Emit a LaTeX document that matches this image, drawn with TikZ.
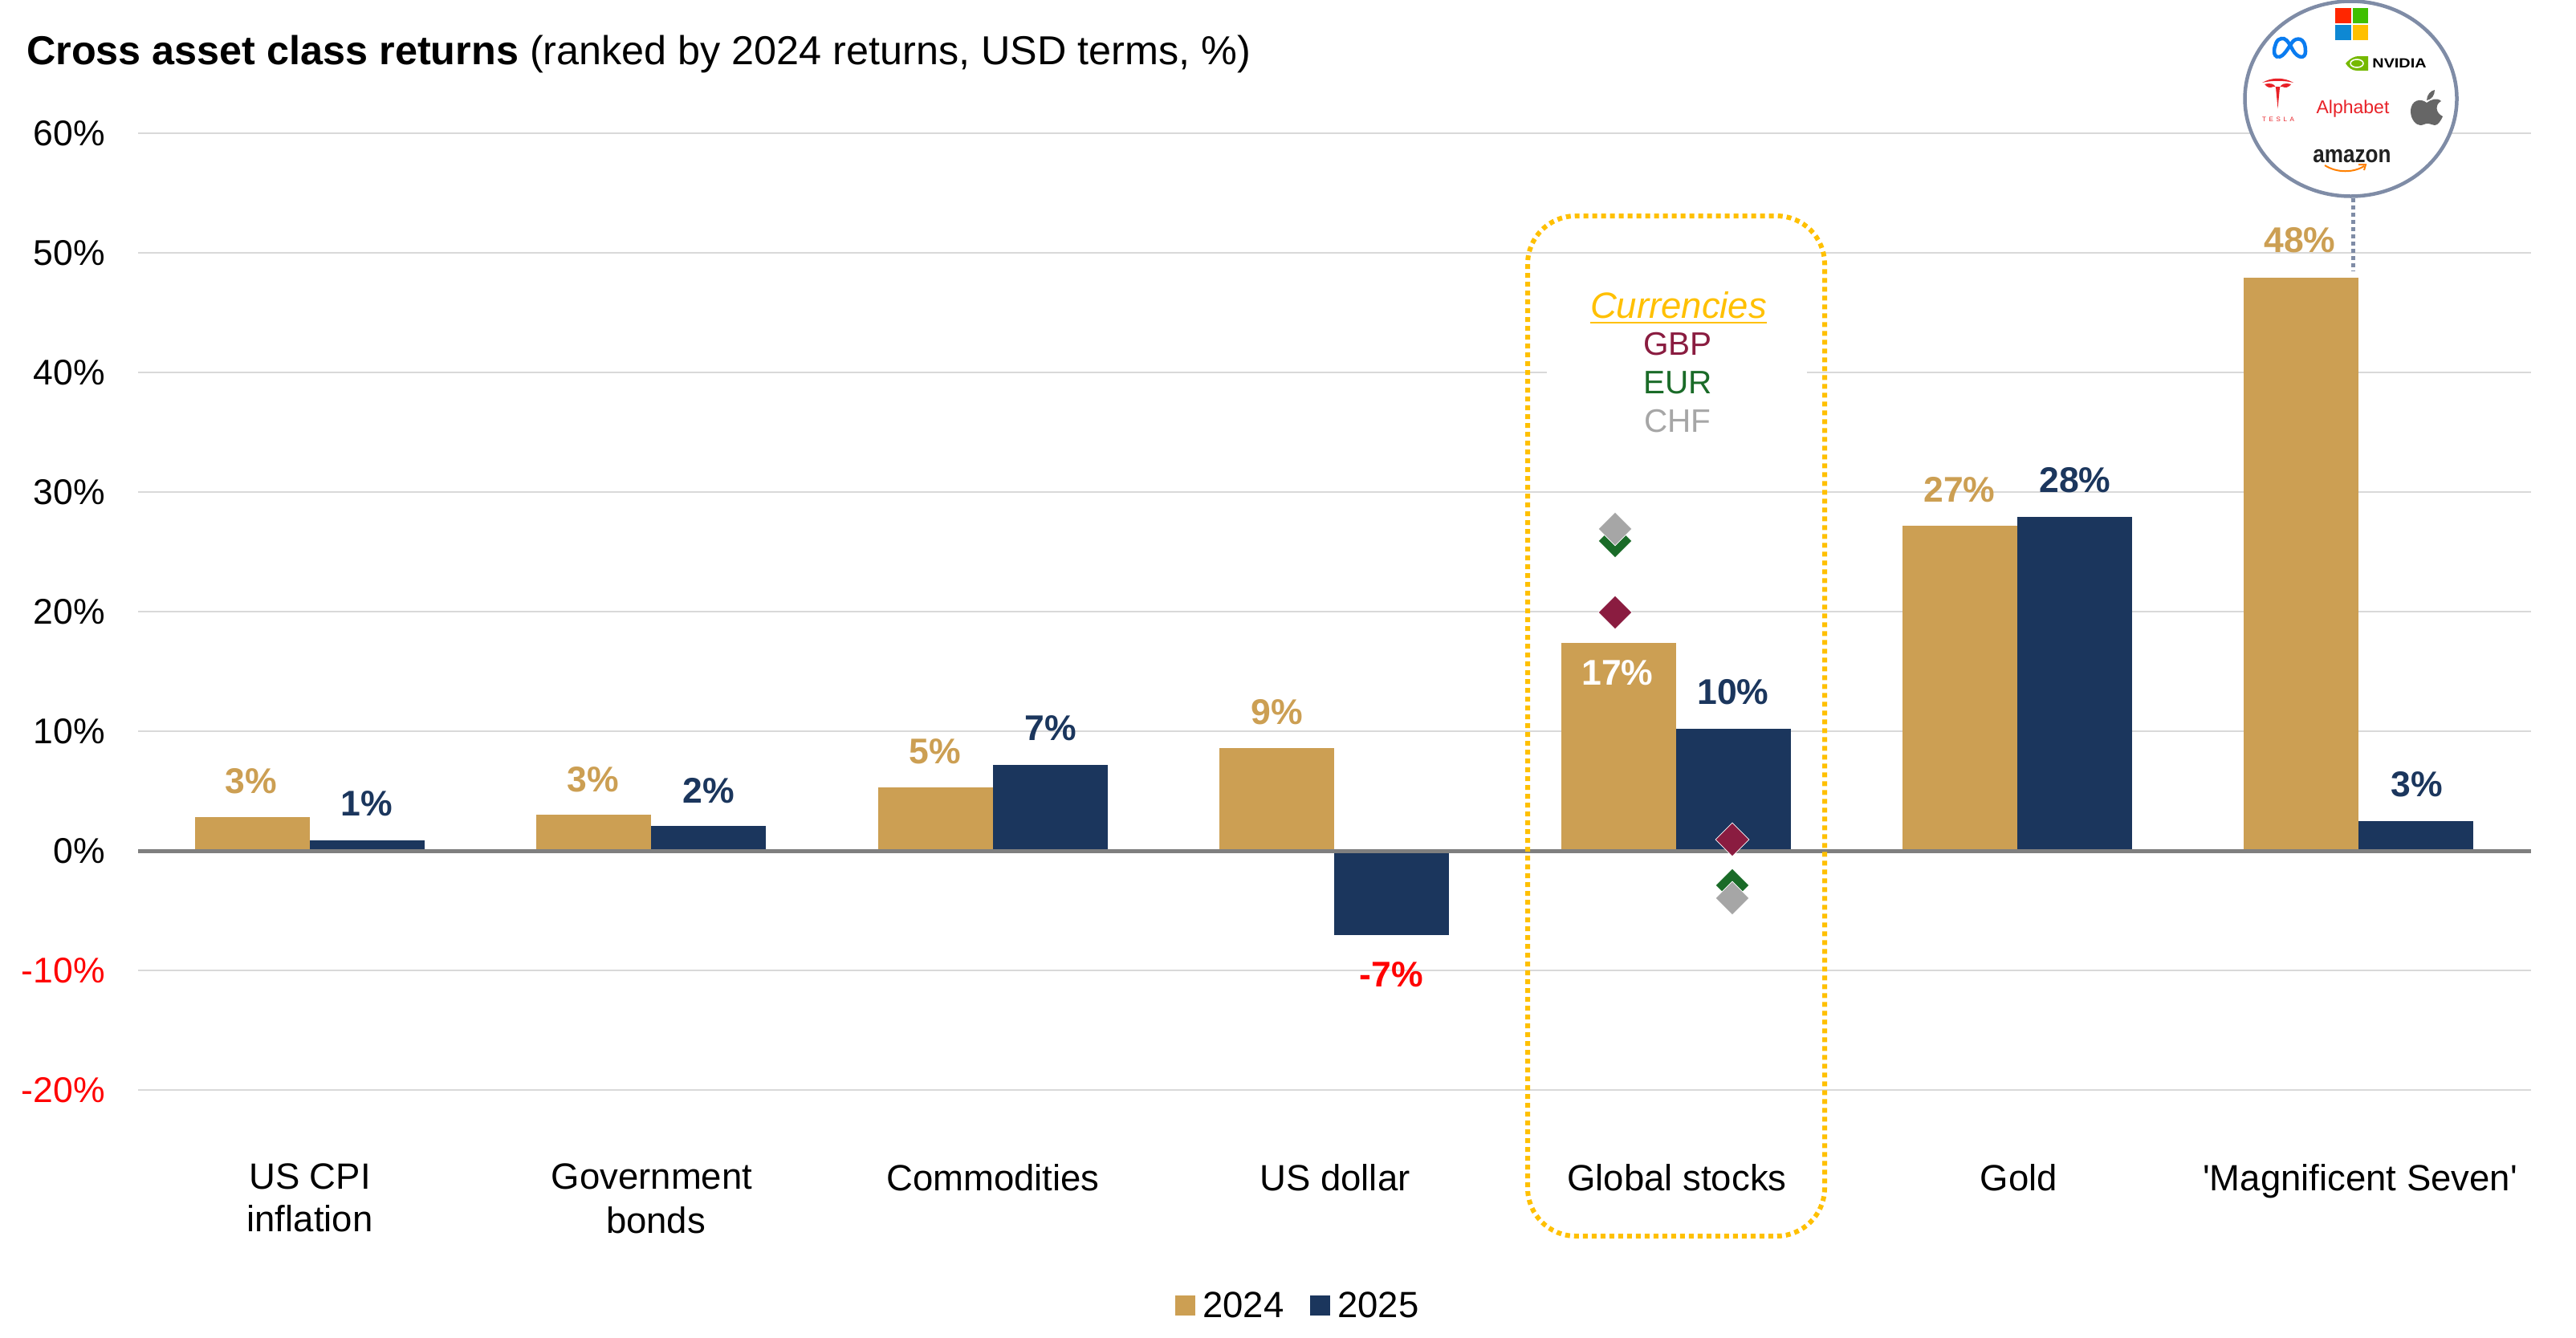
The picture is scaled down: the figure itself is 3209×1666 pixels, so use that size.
\documentclass[tikz,border=0pt]{standalone}
\usepackage{fontspec}
\setmainfont{Liberation Sans}
\newfontfamily\spacedfont[LetterSpace=45]{Liberation Sans}
\usetikzlibrary{shapes.geometric}
\definecolor{cgold}{HTML}{CC9F53}
\definecolor{cnavy}{HTML}{1B365D}
\definecolor{cgrid}{HTML}{D9D9D9}
\definecolor{caxis}{HTML}{7F7F7F}
\definecolor{cyellow}{HTML}{FFC000}
\definecolor{cgbp}{HTML}{8A1C40}
\definecolor{ceur}{HTML}{1A6B28}
\definecolor{cchf}{HTML}{A6A6A6}
\definecolor{cring}{HTML}{7F8CA6}
\definecolor{cmeta}{HTML}{0A7CF0}
\definecolor{cnvidia}{HTML}{76B900}
\definecolor{cbrand}{HTML}{E82127}
\begin{document}
\begin{tikzpicture}[x=1pt,y=-1pt,
    txt/.style={inner sep=0pt,font=\fontsize{45.5}{53}\selectfont},
    ticklabel/.style={inner sep=0pt,font=\fontsize{44.5}{53}\selectfont},
    vallabel/.style={txt,font=\fontsize{44.5}{53}\selectfont\bfseries},
    fx/.style={diamond,minimum size=42pt,inner sep=0pt,draw=white,line width=0.6pt},
    legendkey/.style={minimum size=25pt,inner sep=0pt}]
  \def\axisy{1060}
  \def\onepct{14.9}
  \def\barwidth{143}

  \path[fill=white,use as bounding box] (0,0) rectangle (3209,1666);

  \node[anchor=base west,inner sep=0pt,font=\fontsize{50.35}{60}\selectfont] (title) at (33,80)
    {\textbf{Cross asset class returns} (ranked by 2024 returns, USD terms, \%)};

  \foreach \v/\c in {60/black,50/black,40/black,30/black,20/black,10/black,0/black,-10/red,-20/red} {
    \draw[cgrid,line width=2.5pt] (172,{\axisy-\onepct*\v}) -- (3153,{\axisy-\onepct*\v});
    \node[ticklabel,anchor=east,text=\c] (tick\v) at (131,{\axisy-\onepct*\v}) {\v\%};
  }

  \foreach \i/\a/\b in {0/2.8/0.9,1/3.0/2.1,2/5.3/7.2,3/8.6/-7.05,4/17.4/10.2,5/27.2/27.9,6/47.9/2.5} {
    \pgfmathsetmacro\xc{386+425.4*\i}
    \fill[cgold] (\xc-\barwidth,\axisy) rectangle (\xc,{\axisy-\onepct*\a});
    \fill[cnavy] (\xc,\axisy) rectangle (\xc+\barwidth,{\axisy-\onepct*\b});
  }
  \draw[caxis,line width=5pt] (172,\axisy) -- (3153,\axisy);

  \foreach \n/\x/\y/\c/\t in {a/313/973/cgold/3,b/457/1001/cnavy/1,c/739/971/cgold/3,d/883/985/cnavy/2,
      e/1165/936/cgold/5,f/1309/907/cnavy/7,g/1591/887/cgold/9,h/1733/1214/red/-7,
      i/2015/838/white/17,j/2159/862/cnavy/10,k/2441/610/cgold/27,l/2585/598/cnavy/28,
      m/2865/299/cgold/48,o/3011/977/cnavy/3} {
    \node[vallabel,text=\c] (val\n) at (\x,\y) {\t\%};
  }

  \node[txt,align=center,anchor=north] (catA) at (386,1450) {US CPI\\inflation};
  \node[txt,anchor=north] (catB) at (812,1450) {Government};
  \node[txt,anchor=north] (catBb) at (817,1503) {bonds};
  \node[txt,anchor=north] (catC) at (1237,1450) {Commodities};
  \node[txt,anchor=north] (catD) at (1663,1450) {US dollar};
  \node[txt,anchor=north] (catE) at (2089,1450) {Global stocks};
  \node[txt,anchor=north] (catF) at (2515,1450) {Gold};
  \node[txt,anchor=north] (catG) at (2940,1450) {\textquotesingle Magnificent Seven\textquotesingle};

  \fill[white] (1927,330) rectangle (2251,590);
  \draw[cyellow,line width=6pt,dash pattern=on 6pt off 5pt,rounded corners=60pt] (1903,269) rectangle (2273,1540);
  \node[txt,text=cyellow,font=\fontsize{45.5}{53}\selectfont\itshape] (curr) at (2091,380) {Currencies};
  \draw[cyellow,line width=2pt] ([yshift=-6pt]curr.base west) -- ([yshift=-6pt]curr.base east);
  \node[txt,text=cgbp,font=\fontsize{40.5}{48}\selectfont] (gbp) at (2090,429) {GBP};
  \node[txt,text=ceur,font=\fontsize{40.5}{48}\selectfont] (eur) at (2090,477) {EUR};
  \node[txt,text=cchf,font=\fontsize{40.5}{48}\selectfont] (chf) at (2090,525) {CHF};

  \node[fx,fill=ceur] (eurA) at (2012,674) {};
  \node[fx,fill=cchf] (chfA) at (2012,659) {};
  \node[fx,fill=cgbp] (gbpA) at (2012,763) {};
  \node[fx,fill=cgbp] (gbpB) at (2158,1046) {};
  \node[fx,fill=ceur] (eurB) at (2158,1103) {};
  \node[fx,fill=cchf] (chfB) at (2158,1119) {};

  \coordinate (magtop) at (2931,338);
  \node[ellipse,draw=cring,fill=white,line width=4.5pt,minimum width=264pt,minimum height=243pt,inner sep=0pt] (logos) at (2928.5,123) {};
  \draw[cring,line width=5pt,dash pattern=on 5pt off 4pt] (magtop |- logos.south) -- (magtop);

  \fill[red!70!orange] (2909,10) rectangle (2928.5,29);
  \fill[green!50!olive] (2930.5,10) rectangle (2950,29);
  \fill[cyan!70!blue] (2909,31) rectangle (2928.5,50);
  \fill[cyellow] (2930.5,31) rectangle (2950,50);

  \draw[cmeta,line width=4.5pt] (2838,71) .. controls (2845,71) and (2850,60) .. (2856,52)
    .. controls (2860,47) and (2872,45) .. (2872,64) .. controls (2872,74) and (2862,73) .. (2856,62)
    .. controls (2850,50) and (2846,47) .. (2842,48) .. controls (2836,48) and (2833,58) .. (2833,64)
    .. controls (2833,68) and (2835,71) .. (2838,71);

  \fill[cnvidia] (2922,79) .. controls (2928,72) and (2934,70) .. (2938,70) -- (2950,70) -- (2950,88)
    -- (2936,88) .. controls (2930,88) and (2925,84) .. (2922,79);
  \draw[white,line width=1.5pt] (2936,79) ellipse (8 and 5);
  \node[inner sep=0pt,font=\fontsize{16.5}{20}\selectfont\bfseries,xscale=1.2] (nvidia) at (2989,79) {NVIDIA};

  \fill[cbrand] (2818,103) .. controls (2830,96) and (2845,96) .. (2857,103) .. controls (2845,100) and (2830,100) .. (2818,103);
  \fill[cbrand] (2821,105) .. controls (2828,103) and (2833,104) .. (2835,109) -- (2837.5,135) -- (2840,109)
    .. controls (2842,104) and (2847,103) .. (2854,105) .. controls (2851,109) and (2847,110) .. (2843,108)
    -- (2832,108) .. controls (2828,110) and (2824,109) .. (2821,105);
  \node[inner sep=0pt,text=cbrand,font=\fontsize{8}{10}\selectfont\spacedfont] (tesla) at (2838,149) {TESLA};

  \node[inner sep=0pt,text=cbrand,font=\fontsize{23}{28}\selectfont] (alphabet) at (2931,136) {Alphabet};

  \fill[black!60] (3023,128) .. controls (3016,122) and (3003,124) .. (3003,139) .. controls (3003,149) and (3010,156) .. (3015,156)
    .. controls (3019,156) and (3020,154) .. (3024,154) .. controls (3028,154) and (3030,156) .. (3033,156)
    .. controls (3037,156) and (3041,150) .. (3043,145) .. controls (3034,141) and (3033,130) .. (3041,126)
    .. controls (3036,121) and (3028,124) .. (3023,128) -- cycle;
  \fill[black!60] (3023,125) .. controls (3023,118) and (3028,113) .. (3033,112) .. controls (3033,119) and (3029,124) .. (3023,125);

  \node[inner sep=0pt,text=black!87,font=\fontsize{30}{36}\selectfont\bfseries,xscale=0.87] (amazon) at (2930,195) {amazon};
  \draw[orange,line width=2pt] (2896,206) .. controls (2912,216) and (2932,215) .. (2945,207);
  \draw[orange,line width=2pt] (2938,205) -- (2947,205) -- (2945,212);

  \node[legendkey,fill=cgold] (keyA) at (1476.5,1626) {};
  \node[txt,anchor=west] (keyAtxt) at (1498,1626) {2024};
  \node[legendkey,fill=cnavy] (keyB) at (1644.5,1626) {};
  \node[txt,anchor=west] (keyBtxt) at (1666,1626) {2025};
\end{tikzpicture}
\end{document}
